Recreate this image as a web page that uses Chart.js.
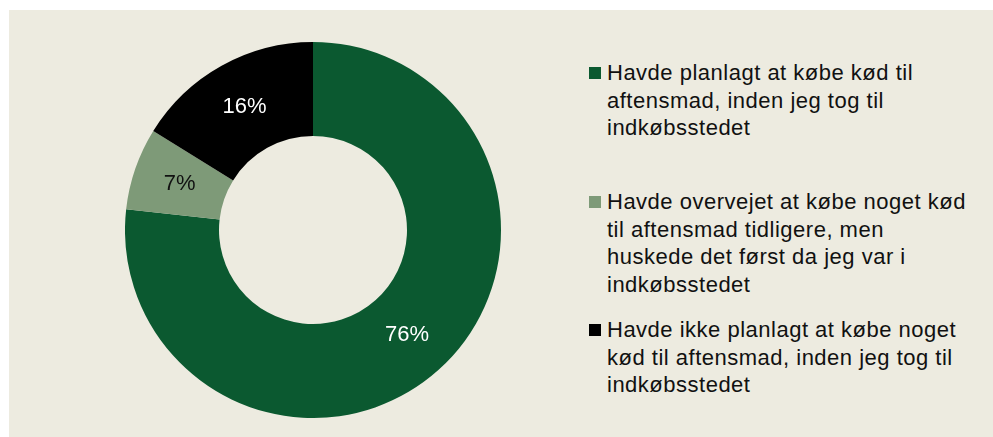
<!doctype html>
<html lang="da">
<head>
  <meta charset="utf-8">
  <title>Kød til aftensmad</title>
  <script src="https://cdn.jsdelivr.net/npm/chart.js@4.4.1/dist/chart.umd.min.js"></script>
  <style>
    html, body { margin: 0; padding: 0; background: #ffffff; }
    .wrap { position: relative; width: 993px; height: 437px; overflow: hidden; }
    .panel { position: absolute; left: 9px; top: 10px; width: 984px; height: 427px; background: #edebe0; }
    .pie-box { position: absolute; left: 125px; top: 42px; width: 376px; height: 376px; }
    .legend { position: absolute; left: 589px; top: 0; width: 404px;
      font-family: "Liberation Sans", Arial, sans-serif; font-size: 22px; letter-spacing: 0.5px; color: #111; }
    .legend .item { position: absolute; left: 0; width: 404px; line-height: 27.5px; white-space: nowrap; }
    .legend .box { position: absolute; left: 0; top: 8px; width: 12px; height: 12px; }
    .legend .txt { margin-left: 18px; }
  </style>
</head>
<body>
  <div class="wrap">
    <div class="panel"></div>
    <div class="pie-box"><canvas id="myChart"></canvas></div>
    <div class="legend" id="legend"></div>
  </div>

  <script>
    // data
    const labels = [
      'Havde planlagt at købe kød til aftensmad, inden jeg tog til indkøbsstedet',
      'Havde overvejet at købe noget kød til aftensmad tidligere, men huskede det først da jeg var i indkøbsstedet',
      'Havde ikke planlagt at købe noget kød til aftensmad, inden jeg tog til indkøbsstedet'
    ];
    const shares = [76, 7, 16];
    const colors = ['#0b5930', '#7e9a78', '#000000'];
    const labelColors = ['#ffffff', '#111111', '#ffffff'];

    // legend lines (manual breaks as in the original)
    const legendLines = [
      ['Havde planlagt at købe kød til', 'aftensmad, inden jeg tog til', 'indkøbsstedet'],
      ['Havde overvejet at købe noget kød', 'til aftensmad tidligere, men', 'huskede det først da jeg var i', 'indkøbsstedet'],
      ['Havde ikke planlagt at købe noget', 'kød til aftensmad, inden jeg tog til', 'indkøbsstedet']
    ];
    const legendTops = [59, 188, 316];

    let legendHtml = '';
    for (let i = 0; i < legendLines.length; i++) {
      legendHtml += `<div class="item" style="top:${legendTops[i]}px">
          <div class="box" style="background:${colors[i]}"></div>
          <div class="txt">${legendLines[i].join('<br>')}</div>
        </div>`;
    }
    document.getElementById('legend').innerHTML = legendHtml;

    // percent labels in the middle of each ring slice
    const sliceLabels = {
      id: 'sliceLabels',
      afterDatasetsDraw(chart) {
        const ctx = chart.ctx;
        const meta = chart.getDatasetMeta(0);
        ctx.save();
        ctx.font = '22px "Liberation Sans", Arial, sans-serif';
        ctx.textAlign = 'center';
        ctx.textBaseline = 'middle';
        meta.data.forEach(function (arc, i) {
          const p = arc.tooltipPosition();
          ctx.fillStyle = labelColors[i];
          ctx.fillText(shares[i] + '%', p.x, p.y);
        });
        ctx.restore();
      }
    };

    new Chart(document.getElementById('myChart'), {
      type: 'doughnut',
      data: {
        labels: labels,
        datasets: [{
          data: shares,
          backgroundColor: colors,
          borderWidth: 0
        }]
      },
      options: {
        responsive: true,
        maintainAspectRatio: false,
        animation: false,
        cutout: '50%',
        layout: { padding: 0 },
        plugins: {
          legend: { display: false },
          tooltip: { enabled: false }
        }
      },
      plugins: [sliceLabels]
    });
  </script>
</body>
</html>
